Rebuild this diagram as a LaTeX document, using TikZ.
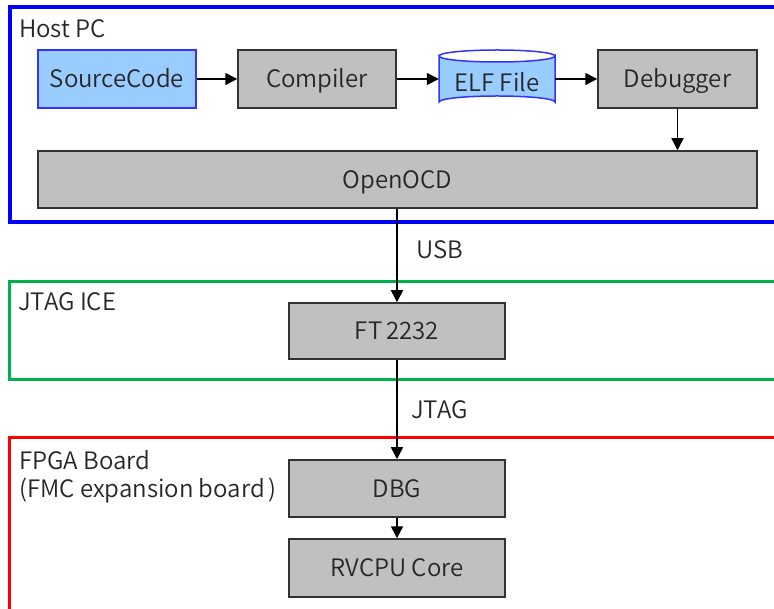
\documentclass[tikz,border=0pt]{standalone}
\usepackage{fontspec}
\setmainfont{Noto Sans CJK JP DemiLight}
\usetikzlibrary{arrows.meta}

\definecolor{hostblue}{HTML}{0000FF}
\definecolor{icegreen}{HTML}{00B050}
\definecolor{boardred}{HTML}{FF0000}
\definecolor{srcfill}{HTML}{99CCFF}
\definecolor{srcline}{HTML}{3333FF}
\definecolor{boxfill}{HTML}{C0C0C0}
\definecolor{boxline}{HTML}{333333}
\definecolor{ink}{HTML}{262626}

\begin{document}
\begin{tikzpicture}[x=1pt, y=-1pt,
  font=\fontsize{24}{28}\selectfont, text=ink,
  capcentred/.style={text height=17.5pt, text depth=0pt},
  block/.style={draw=boxline, fill=boxfill, line width=1.5pt, inner sep=0pt, capcentred},
  srcblock/.style={draw=srcline, fill=srcfill, line width=1.5pt, inner sep=0pt, capcentred},
  frame/.style={line width=#1},
  flow/.style={draw=black, line width=1.5pt, -{Triangle[length=12pt,width=12pt]}},
  grouplabel/.style={inner sep=0pt},
]
\clip (0,0) rectangle (774,609);
\fill[white] (0,0) rectangle (774,609);

% group frames (open to the right edge)
\draw[frame=4pt, hostblue]  (9.5,7.5)   rectangle (800,222);
\draw[frame=3pt, icegreen]  (9.5,281.5) rectangle (800,380);
\draw[frame=3pt, boardred]  (9.5,438)   rectangle (800,610);

\node[grouplabel, anchor=base west] (hostlbl) at (19,38)  {Host PC};
\node[grouplabel, anchor=base west] (icelbl)  at (18,311) {JTAG ICE};
\node[grouplabel, anchor=north west, align=left] (boardlbl) at (19,450)
  {FPGA Board\\(FMC expansion board\kern4pt)};

% host PC tool chain
\node[srcblock, minimum width=158pt, minimum height=58pt] (src)  at (117,79)   {SourceCode};
\node[block,    minimum width=158pt, minimum height=58pt] (comp) at (317,79)   {Compiler};
\node[block,    minimum width=159pt, minimum height=58pt] (deb)  at (677.5,79) {Debugger};
\node[block,    minimum width=719pt, minimum height=57pt] (ocd)  at (397.5,179.5) {OpenOCD};

% ELF file drawn as a cylinder
\path[draw=srcline, fill=srcfill, line width=1.5pt]
  (439,56) -- (439,102)
  arc[start angle=180, end angle=360, x radius=58, y radius=6]
  -- (555,56)
  arc[start angle=0, end angle=180, x radius=58, y radius=6] -- cycle;
\draw[srcline, line width=1.5pt]
  (439,56) arc[start angle=180, end angle=360, x radius=58, y radius=6];
\node[inner sep=0pt, minimum width=116pt, minimum height=58pt,
      label={[inner sep=0pt, capcentred, yshift=-4pt]center:ELF File}] (elf) at (497,79) {};

% hardware chain
\node[block, minimum width=216pt, minimum height=56pt] (ft)  at (397,331)   {FT\kern4pt2232};
\node[block, minimum width=216pt, minimum height=57pt] (dbg) at (397,488.5) {DBG};
\node[block, minimum width=216pt, minimum height=58pt] (cpu) at (397,568)   {RVCPU Core};

% connectors
\draw[flow] (src) -- (comp);
\draw[flow] (comp) -- (elf);
\draw[flow] (elf) -- (deb);
\draw[flow] (deb) -- (deb |- ocd.north);
\draw[flow] (ft.north |- ocd.south) -- (ft);
\draw[flow] (ft) -- (dbg);
\draw[flow] (dbg) -- (cpu);

\node[grouplabel, anchor=base west] (usb)  at (416,259) {USB};
\node[grouplabel, anchor=base west] (jtag) at (411,419) {JTAG};
\end{tikzpicture}
\end{document}
